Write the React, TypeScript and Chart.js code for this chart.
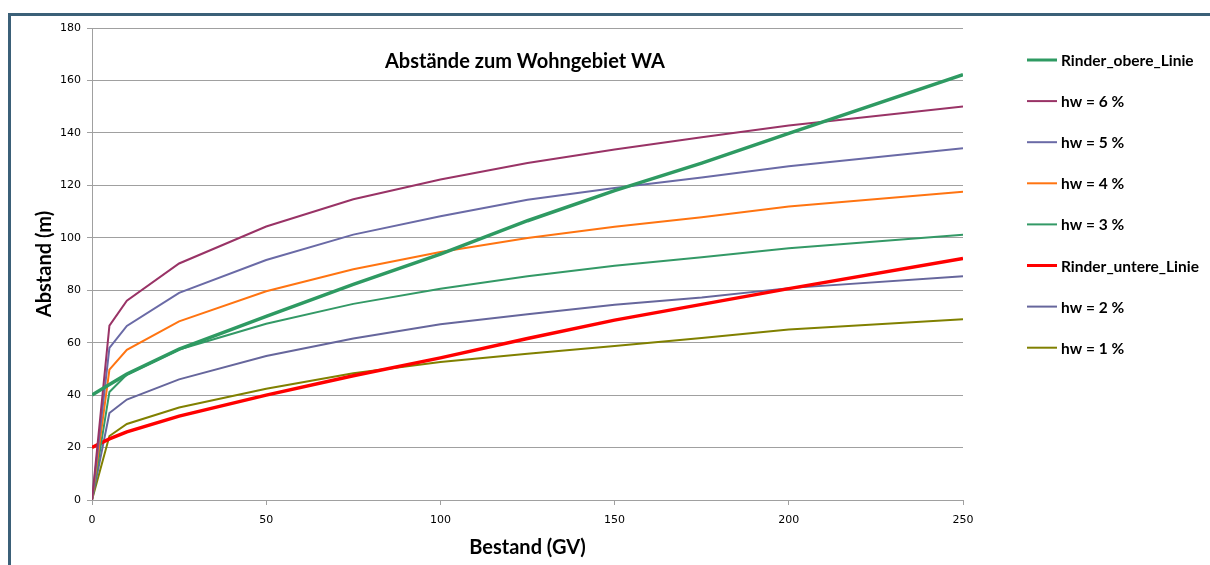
import React, { useEffect, useRef } from "react";
import { Chart, registerables } from "chart.js";

Chart.register(...registerables);

const bestand = [0, 5, 10, 25, 50, 75, 100, 125, 150, 175, 200, 250];

const seriesNames = [
  "Rinder_obere_Linie",
  "hw = 6 %",
  "hw = 5 %",
  "hw = 4 %",
  "hw = 3 %",
  "Rinder_untere_Linie",
  "hw = 2 %",
  "hw = 1 %",
];

const rinderObere = [40, 44, 48, 57.5, 70, 82.2, 93.8, 106.5, 118, 128.5, 139.8, 162.2];
const hw6 = [0, 66.5, 76, 90.2, 104.3, 114.7, 122.2, 128.5, 133.7, 138.3, 142.8, 150.1];
const hw5 = [0, 58, 66.4, 79, 91.5, 101.2, 108.2, 114.5, 119, 123, 127.3, 134.1];
const hw4 = [0, 49.7, 57.3, 68.1, 79.6, 88, 94.6, 99.9, 104.2, 107.8, 111.9, 117.6];
const hw3 = [0, 41.2, 47.8, 57.4, 67.2, 74.8, 80.6, 85.3, 89.3, 92.6, 96, 101.2];
const rinderUntere = [20, 23.3, 26, 32, 40, 47.4, 54.2, 61.6, 68.6, 74.6, 80.6, 92.1];
const hw2 = [0, 33.2, 38.3, 46, 54.9, 61.6, 67, 70.8, 74.5, 77.2, 80.8, 85.3];
const hw1 = [0, 24.4, 29, 35.3, 42.4, 48.3, 52.6, 55.8, 58.7, 61.8, 65, 68.9];

const seriesValues = [rinderObere, hw6, hw5, hw4, hw3, rinderUntere, hw2, hw1];
const seriesColors = ["#2e9a62", "#993366", "#6a6aa6", "#ff7411", "#339966", "#ff0000", "#66669c", "#808000"];
const seriesWidths = [3.5, 2, 2, 2, 2, 3.5, 2, 2];

const yTicks = [0, 20, 40, 60, 80, 100, 120, 140, 160, 180];
const xTicks = [0, 50, 100, 150, 200, 250];

const chartTitle = "Abstände zum Wohngebiet WA";
const xTitle = "Bestand (GV)";
const yTitle = "Abstand (m)";

const overlayPlugin = {
  id: "overlay",
  afterDraw(chart: any) {
    const ctx = chart.ctx;
    const area = chart.chartArea;
    ctx.save();
    // title inside the plot area
    ctx.fillStyle = "#000";
    ctx.font = "bold 20px Lato";
    ctx.textAlign = "center";
    ctx.textBaseline = "middle";
    ctx.fillText(chartTitle, 525, 62);
    // legend
    ctx.font = "bold 15.5px Lato";
    ctx.textAlign = "left";
    const x0 = area.right + 64;
    chart.data.datasets.forEach((ds: any, i: number) => {
      const y = 60 + i * 41.1;
      ctx.strokeStyle = ds.borderColor;
      ctx.lineWidth = ds.borderWidth >= 3 ? 3 : 2;
      ctx.beginPath();
      ctx.moveTo(x0, y);
      ctx.lineTo(x0 + 30, y);
      ctx.stroke();
      ctx.fillStyle = "#000";
      ctx.fillText(ds.label, x0 + 34, y + 1);
    });
    ctx.restore();
  },
};

export default function App() {
  const ref = useRef<HTMLCanvasElement>(null);
  useEffect(() => {
    if (!ref.current) return;
    const chart = new Chart(ref.current, {
      type: "line",
      data: {
        datasets: seriesNames.map((name, i) => ({
          label: name,
          data: bestand.map((b, j) => ({ x: b, y: seriesValues[i][j] })),
          borderColor: seriesColors[i],
          backgroundColor: seriesColors[i],
          borderWidth: seriesWidths[i],
          pointRadius: 0,
          tension: 0,
          fill: false,
        })),
      },
      options: {
        animation: false,
        responsive: false,
        layout: { padding: { top: 28, right: 247, left: 0, bottom: 0 } },
        plugins: { legend: { display: false }, title: { display: false }, tooltip: { enabled: false } },
        scales: {
          x: {
            type: "linear",
            min: 0,
            max: 250,
            afterBuildTicks: (scale: any) => {
              scale.ticks = xTicks.map((v) => ({ value: v }));
            },
            afterFit: (scale: any) => {
              scale.height = 65;
            },
            grid: { drawOnChartArea: false, tickLength: 5, color: "#a0a0a0", lineWidth: 1 },
            border: { display: true, color: "#a0a0a0", width: 1 },
            ticks: { color: "#000", font: { family: "DejaVu Sans", size: 11 }, padding: 9, maxRotation: 0 },
            title: {
              display: true,
              text: xTitle,
              color: "#000",
              font: { family: "Lato", size: 20, weight: "bold" },
              padding: { top: 0, bottom: 5 },
            },
          },
          y: {
            type: "linear",
            min: 0,
            max: 180,
            afterBuildTicks: (scale: any) => {
              scale.ticks = yTicks.map((v) => ({ value: v }));
            },
            afterFit: (scale: any) => {
              scale.width = 92;
            },
            grid: { drawOnChartArea: true, tickLength: 5, color: "#a0a0a0", lineWidth: 1 },
            border: { display: true, color: "#a0a0a0", width: 1 },
            ticks: { color: "#000", font: { family: "DejaVu Sans", size: 11 }, padding: 6 },
            title: {
              display: true,
              text: yTitle,
              color: "#000",
              font: { family: "Lato", size: 20, weight: "bold" },
              padding: { top: 33, bottom: 0 },
            },
          },
        },
      },
      plugins: [overlayPlugin],
    });
    return () => chart.destroy();
  }, []);
  return (
    <div style={{ position: "fixed", left: 0, top: 0, width: 1210, height: 565, background: "#fff", overflow: "hidden" }}>
      <canvas ref={ref} width={1210} height={565} style={{ position: "absolute", left: 0, top: 0 }} />
      <div
        style={{
          position: "absolute",
          left: 8,
          top: 13,
          width: 1220,
          height: 600,
          border: "3px solid #3b6078",
          boxSizing: "border-box",
          pointerEvents: "none",
        }}
      />
    </div>
  );
}
